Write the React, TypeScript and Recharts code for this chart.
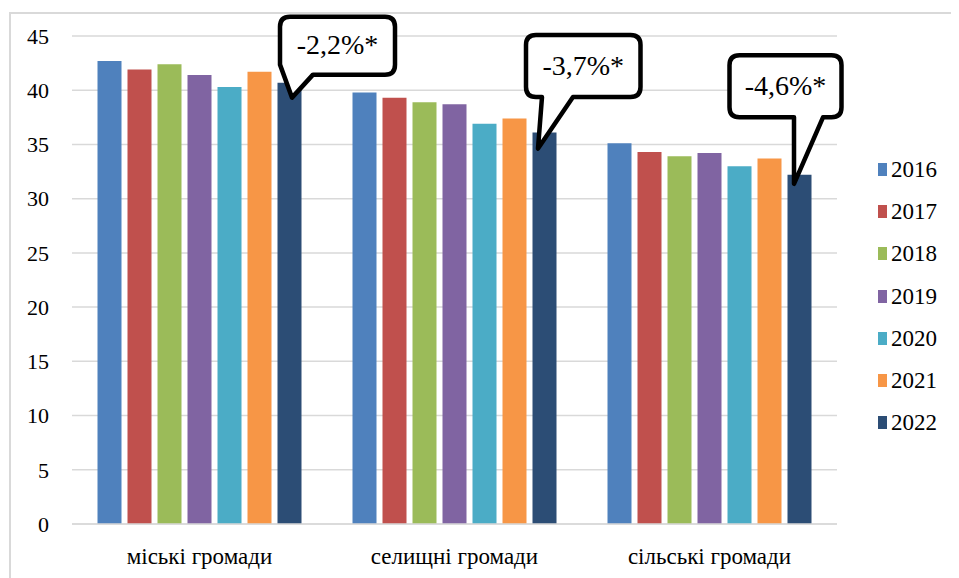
import React from 'react';
import { BarChart, Bar, XAxis, YAxis, CartesianGrid, Legend, LabelList } from 'recharts';

const categories = ['міські громади', 'селищні громади', 'сільські громади'];
const years = ['2016', '2017', '2018', '2019', '2020', '2021', '2022'];

const v2016 = [42.7, 39.8, 35.1];
const v2017 = [41.9, 39.3, 34.3];
const v2018 = [42.4, 38.9, 33.9];
const v2019 = [41.4, 38.7, 34.2];
const v2020 = [40.3, 36.9, 33.0];
const v2021 = [41.7, 37.4, 33.7];
const v2022 = [40.7, 36.1, 32.2];

const changeNotes = ['-2,2%*', '-3,7%*', '-4,6%*'];
const yTicks = [0, 5, 10, 15, 20, 25, 30, 35, 40, 45];

const seriesValues = [v2016, v2017, v2018, v2019, v2020, v2021, v2022];
const colors = ['#4F81BD', '#C0504D', '#9BBB59', '#8064A2', '#4BACC6', '#F79646', '#2C4D75'];

const data = categories.map((name, i) => {
  const row: any = { name, note: changeNotes[i] };
  years.forEach((y, s) => {
    row[y] = seriesValues[s][i];
  });
  return row;
});

const FONT = 'Liberation Serif';

// callout geometry, relative to the top-left corner of the 2022 bar
const calloutShapes: Record<string, any> = {
  '-2,2%*': { l: 2.5, r: 117.5, t: -66, b: -8, ta: null, tb: 35.5, tx: 14.5, ty: 15 },
  '-3,7%*': { l: -6.5, r: 108, t: -97.5, b: -35.5, ta: 9.5, tb: 40.5, tx: 5.5, ty: 16 },
  '-4,6%*': { l: -58, r: 54, t: -119.5, b: -57.5, ta: 6.5, tb: 35.5, tx: 6.5, ty: 9 },
};

const Callout = (props: any) => {
  const { x, y, value } = props;
  const c = calloutShapes[value];
  if (!c) return null;
  const L = x + c.l, R = x + c.r, T = y + c.t, B = y + c.b;
  const r = 10;
  let d = `M ${L + r},${T} H ${R - r} Q ${R},${T} ${R},${T + r} V ${B - r} Q ${R},${B} ${R - r},${B}`;
  d += ` H ${x + c.tb} L ${x + c.tx},${y + c.ty}`;
  if (c.ta === null) {
    d += ` L ${L},${B - r}`;
  } else if (x + c.ta <= L + 0.5) {
    d += ` L ${L},${B} V ${T + r}`;
  } else {
    d += ` L ${x + c.ta},${B} H ${L + r} Q ${L},${B} ${L},${B - r}`;
  }
  d += ` V ${T + r} Q ${L},${T} ${L + r},${T} Z`;
  return (
    <g>
      <path d={d} fill="#fff" stroke="#000" strokeWidth={4.5} strokeLinejoin="round" />
      <text
        x={(L + R) / 2}
        y={(T + B) / 2 - 1}
        textAnchor="middle"
        dominantBaseline="central"
        style={{ fontFamily: FONT }}
        fontSize={28}
        fill="#000"
      >
        {value}
      </text>
    </g>
  );
};

const LegendBox = () => (
  <div style={{ width: 100, paddingLeft: 41, boxSizing: 'border-box' }}>
    {years.map((y, i) => (
      <div key={y} style={{ height: 42.3, display: 'flex', alignItems: 'center' }}>
        <span style={{ width: 13, height: 13, background: colors[i], display: 'inline-block', marginRight: 4 }} />
        <span style={{ fontFamily: FONT, fontSize: 23, color: '#000', lineHeight: '23px' }}>{y}</span>
      </div>
    ))}
  </div>
);

const App = () => {
  return (
    <div style={{ position: 'relative', width: 951, height: 570, overflow: 'hidden', fontFamily: FONT }}>
      <div
        style={{
          position: 'absolute',
          left: 1,
          top: 4,
          width: 1000,
          height: 600,
          border: '2px solid #d9d9d9',
          boxSizing: 'border-box',
        }}
      />
      <BarChart
        width={951}
        height={570}
        data={data}
        margin={{ top: 28, right: 22, left: 0, bottom: 0 }}
        barCategoryGap="10%"
        barGap={6}
        style={{ position: 'absolute', left: 0, top: 0, fontFamily: FONT }}
      >
        <CartesianGrid vertical={false} stroke="#d9d9d9" strokeWidth={1.5} />
        <XAxis
          dataKey="name"
          height={54}
          tickLine={false}
          tickSize={0}
          tickMargin={24}
          axisLine={{ stroke: '#d9d9d9', strokeWidth: 1.5 }}
          tick={{ fontSize: 23, fill: '#000', style: { fontFamily: FONT } }}
        />
        <YAxis
          width={64}
          domain={[0, 45]}
          ticks={yTicks}
          interval={0}
          axisLine={false}
          tickLine={false}
          tickSize={0}
          tickMargin={23}
          tick={{ fontSize: 22, fill: '#000', style: { fontFamily: FONT } }}
        />
        <Legend
          layout="vertical"
          align="right"
          verticalAlign="middle"
          content={<LegendBox />}
          wrapperStyle={{ top: 140 }}
        />
        {years.map((y, i) => (
          <Bar key={y} dataKey={y} fill={colors[i]} isAnimationActive={false}>
            {i === years.length - 1 && <LabelList dataKey="note" content={<Callout />} />}
          </Bar>
        ))}
      </BarChart>
    </div>
  );
};

export default App;
